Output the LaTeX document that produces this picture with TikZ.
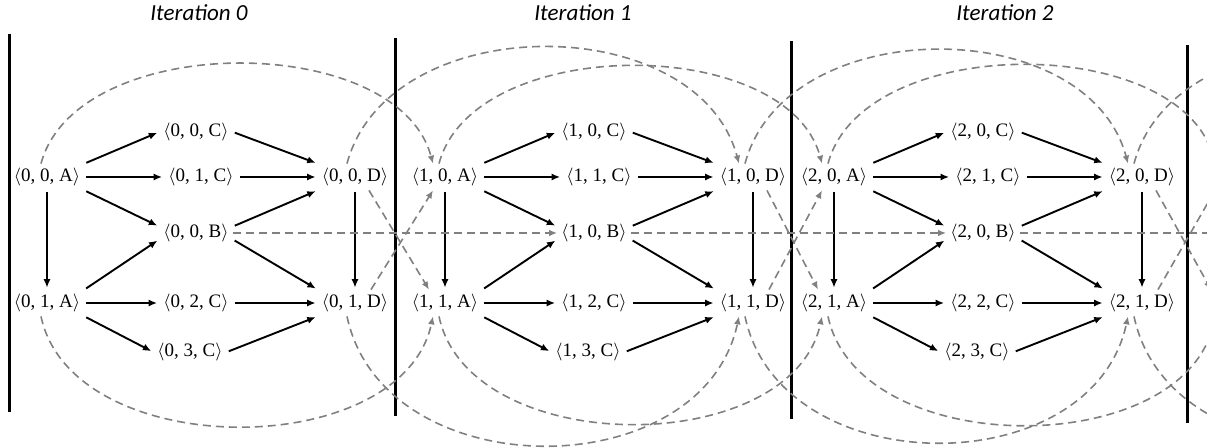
\documentclass[tikz,border=0pt]{standalone}
\usepackage{fontspec}
\setmainfont{Liberation Serif}
\newfontfamily\titlefont{Carlito}
\usetikzlibrary{arrows.meta}
\definecolor{flowgray}{RGB}{128,128,128}
\tikzset{
  state/.style={inner sep=2pt,font=\fontsize{9.5}{11}\selectfont},
  title/.style={font=\titlefont\itshape\fontsize{11.5}{13}\selectfont},
  arrow/.style={-{Latex[length=4.2pt,width=3.6pt]},line width=0.95pt,shorten >=1pt,shorten <=1pt},
  flow/.style={-{Latex[length=4pt,width=3.4pt]},line width=0.8pt,flowgray,dash pattern=on 4pt off 2.5pt},
  divider/.style={line width=1.5pt}
}
\begin{document}
\begin{tikzpicture}[x=0.5pt,y=0.5pt]
\useasboundingbox (0,0) rectangle (1207,-448);
\clip (0,0) rectangle (1207,-448);
% iteration titles
\node[title] (t0) at (199,-13) {Iteration 0};
\node[title] (t1) at (583,-13) {Iteration 1};
\node[title] (t2) at (1005,-13) {Iteration 2};
% separators
\foreach \k/\lx in {0/9,1/395,2/791,3/1187}
  \draw[divider] (\lx,-34-3.7*\k) -- (\lx,-412-3.7*\k);
% states of each iteration
\foreach \i/\dx in {0/0,1/398,2/787}{
  \begin{scope}[xshift=\dx*0.5pt]
  \node[state] (A\i0) at (47,-177) {$\langle$\i, 0, A$\rangle$};
  \node[state] (A\i1) at (47,-303) {$\langle$\i, 1, A$\rangle$};
  \node[state] (C\i0) at (196,-132) {$\langle$\i, 0, C$\rangle$};
  \node[state] (C\i1) at (201,-177) {$\langle$\i, 1, C$\rangle$};
  \node[state] (B\i) at (196,-233) {$\langle$\i, 0, B$\rangle$};
  \node[state] (C\i2) at (196,-303) {$\langle$\i, 2, C$\rangle$};
  \node[state] (C\i3) at (190,-352) {$\langle$\i, 3, C$\rangle$};
  \node[state] (D\i0) at (355,-177) {$\langle$\i, 0, D$\rangle$};
  \node[state] (D\i1) at (355,-303) {$\langle$\i, 1, D$\rangle$};
  \end{scope}
}
% next iteration, off the page
\begin{scope}[xshift=590pt]
\node[state] (A30) at (47,-177) {\phantom{$\langle$3, 0, A$\rangle$}};
\node[state] (A31) at (47,-303) {\phantom{$\langle$3, 1, A$\rangle$}};
\node[state] (B3) at (196,-233) {\phantom{$\langle$3, 0, B$\rangle$}};
\node[state] (D30) at (355,-177) {\phantom{$\langle$3, 0, D$\rangle$}};
\node[state] (D31) at (355,-303) {\phantom{$\langle$3, 1, D$\rangle$}};
\end{scope}
% transitions inside an iteration
\foreach \i in {0,1,2}{
  \draw[arrow] (A\i0.north east) -- (C\i0.west);
  \draw[arrow] (A\i0.east) -- (C\i1.west);
  \draw[arrow] (A\i0.south east) -- (B\i.170);
  \draw[arrow] (A\i0.south) -- (A\i1.north);
  \draw[arrow] (A\i1.north east) -- (B\i.190);
  \draw[arrow] (A\i1.east) -- (C\i2.west);
  \draw[arrow] (A\i1.south east) -- (C\i3.west);
  \draw[arrow] (C\i0.east) -- (D\i0.north west);
  \draw[arrow] (C\i1.east) -- (D\i0.west);
  \draw[arrow] (B\i.10) -- (D\i0.south west);
  \draw[arrow] (B\i.350) -- (D\i1.north west);
  \draw[arrow] (D\i0.south) -- (D\i1.north);
  \draw[arrow] (C\i2.east) -- (D\i1.west);
  \draw[arrow] (C\i3.east) -- (D\i1.south west);
}
% carry-over to the next iteration
\foreach \i/\j in {0/1,1/2,2/3}{
  \draw[flow] (B\i.east) -- (B\j.west);
  \draw[flow] ([xshift=7pt]D\i0.south) -- ([xshift=-8pt]A\j1.north);
  \draw[flow] ([xshift=8pt]D\i1.north) -- ([xshift=-6pt]A\j0.south);
  \draw[flow] ([xshift=-3pt]A\i0.north) to[out=75,in=105,looseness=0.9] ([xshift=-6pt]A\j0.north);
  \draw[flow] ([xshift=-4pt]D\i0.north) to[out=75,in=105,looseness=1.05] ([xshift=-7pt]D\j0.north);
  \draw[flow] ([xshift=-3pt]A\i1.south) to[out=-78,in=-102,looseness=0.98] ([xshift=-6pt]A\j1.south);
  \draw[flow] ([xshift=-4pt]D\i1.south) to[out=-78,in=-102,looseness=1.15] ([xshift=-7pt]D\j1.south);
}
\end{tikzpicture}
\end{document}
